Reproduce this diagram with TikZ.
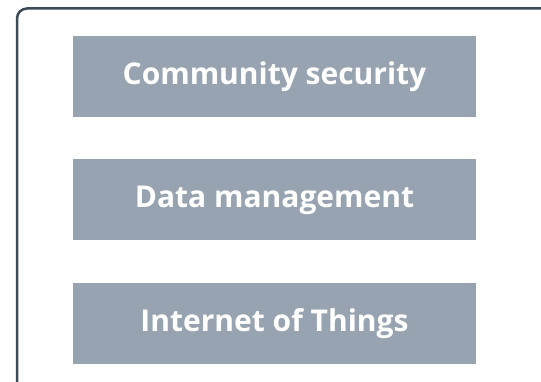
\documentclass[tikz,border=0pt]{standalone}
\usepackage{fontspec}
\setmainfont{Open Sans}
\usetikzlibrary{positioning}
\definecolor{framecol}{HTML}{3D4A58}
\definecolor{boxfill}{HTML}{97A3B0}
\tikzset{
  topic/.style={fill=boxfill, minimum width=403pt, minimum height=81pt, inner sep=0pt,
    text=white, font=\fontsize{30}{36}\selectfont\bfseries},
}
\begin{document}
\begin{tikzpicture}[x=1pt,y=-1pt]
\useasboundingbox (0,0) rectangle (541,382);
\clip (0,0) rectangle (541,382);
% outer frame runs off the page on the right and bottom
\draw[framecol, line width=2.5pt, rounded corners=10pt] (17,8.5) rectangle (570,400);
\node[topic] (security) at (274.5,76.5) {Community security};
\node[topic, below=42pt of security] (data) {Data management};
\node[topic, below=42pt of data] (iot) {Internet of Things};
\end{tikzpicture}
\end{document}
